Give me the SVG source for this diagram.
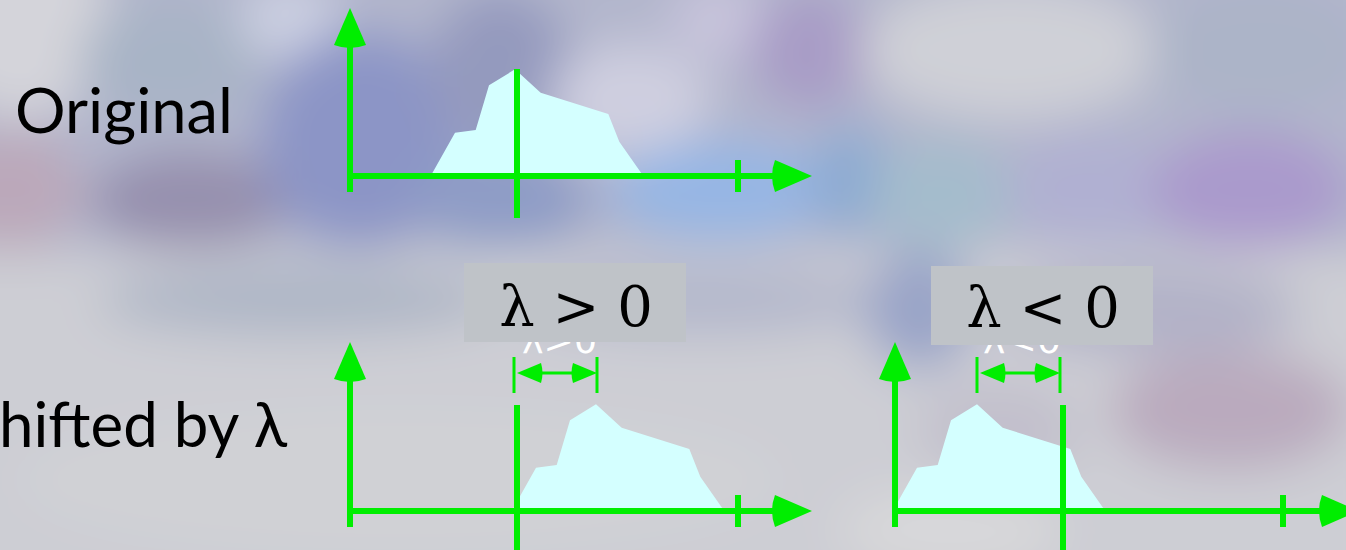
<svg xmlns="http://www.w3.org/2000/svg" width="1346" height="550" viewBox="0 0 1346 550">
<style>
.ax{stroke:#00ee00;stroke-width:6;fill:none}
.dim{stroke:#00ee00;stroke-width:3;fill:none}
.ah{fill:#00ee00}
.hist{fill:#d4ffff}
.lbl{font-family:Lato,"Noto Sans",sans-serif;font-size:62px;fill:#000}
.box{fill:#bfc3c8}
.math{font-family:"DejaVu Serif","Liberation Serif",serif;font-size:56px;fill:#000}
.ghost{font-family:"DejaVu Sans","Liberation Sans",sans-serif;font-size:36px;fill:#fff}
</style>
<defs>
<filter id="blur" x="-20%" y="-20%" width="140%" height="140%"><feGaussianBlur stdDeviation="24"/></filter>
<clipPath id="clipL"><rect x="500" y="342" width="120" height="20"/></clipPath>
<clipPath id="clipR"><rect x="960" y="345" width="120" height="20"/></clipPath>
<path id="head" d="M0,0 L-37,-16 Q-43,0 -37,16 Z"/>
<path id="shead" d="M0,0 L-24,-10 Q-27,0 -24,10 Z"/>
<polygon id="histo" points="430.7,176 455,132.7 475.7,130 489,85.3 515,69.3 540.7,92.7 608.3,114 619.3,141.7 643.3,176"/>
</defs>
<g id="background">
<rect width="1346" height="550" fill="#cacbd3"/>
<g filter="url(#blur)">
<rect x="-60" y="250" width="1460" height="360" fill="#cdced4"/>
<rect x="-60" y="-60" width="1460" height="310" fill="#b2b6cc"/>
<ellipse cx="20" cy="20" rx="90" ry="100" fill="#d4d4da"/>
<ellipse cx="10" cy="190" rx="70" ry="60" fill="#bba8ba"/>
<ellipse cx="170" cy="60" rx="90" ry="60" fill="#a8b4c6"/>
<ellipse cx="290" cy="20" rx="50" ry="40" fill="#ccd0e2"/>
<ellipse cx="190" cy="200" rx="100" ry="50" fill="#9690ae"/>
<ellipse cx="360" cy="140" rx="100" ry="110" fill="#8c95c6"/>
<ellipse cx="500" cy="70" rx="70" ry="80" fill="#949abe"/>
<ellipse cx="630" cy="100" rx="80" ry="55" fill="#cfcfe0"/>
<ellipse cx="720" cy="20" rx="50" ry="40" fill="#c8c4dc"/>
<ellipse cx="810" cy="50" rx="60" ry="60" fill="#a89cc6"/>
<ellipse cx="500" cy="200" rx="90" ry="50" fill="#8e9cc6"/>
<ellipse cx="720" cy="190" rx="110" ry="50" fill="#96b6e4"/>
<ellipse cx="850" cy="180" rx="40" ry="55" fill="#8caad2"/>
<ellipse cx="940" cy="195" rx="70" ry="55" fill="#a4bccc"/>
<ellipse cx="1010" cy="50" rx="150" ry="70" fill="#cfd0d7"/>
<ellipse cx="1260" cy="50" rx="110" ry="65" fill="#acb4c8"/>
<ellipse cx="1090" cy="190" rx="80" ry="55" fill="#b0b0d2"/>
<ellipse cx="1250" cy="190" rx="100" ry="60" fill="#aa9acc"/>
<ellipse cx="300" cy="300" rx="200" ry="35" fill="#aeb6c6"/>
<ellipse cx="700" cy="300" rx="180" ry="35" fill="#b4b8cc"/>
<ellipse cx="920" cy="310" rx="55" ry="60" fill="#9aa4c8"/>
<ellipse cx="1150" cy="310" rx="150" ry="45" fill="#b2b2c8"/>
<ellipse cx="1230" cy="410" rx="120" ry="60" fill="#baaabe"/>
<ellipse cx="400" cy="480" rx="380" ry="70" fill="#d0d1d5"/>
<ellipse cx="950" cy="530" rx="110" ry="40" fill="#d8d8da"/>
<ellipse cx="1000" cy="430" rx="80" ry="50" fill="#c2c0cc"/>
</g>
</g>
<g id="label-original"><text class="lbl" x="15" y="133" textLength="218" lengthAdjust="spacingAndGlyphs">Original</text></g>
<g id="label-shifted"><text class="lbl" x="-1" y="447" textLength="288" lengthAdjust="spacingAndGlyphs">hifted by λ</text></g>
<g id="graph-original">
<use href="#histo" class="hist"/>
<line class="ax" x1="350" y1="192" x2="350" y2="40"/>
<use href="#head" class="ah" transform="translate(350,8) rotate(-90)"/>
<line class="ax" x1="347" y1="176" x2="780" y2="176"/>
<use href="#head" class="ah" transform="translate(812,176)"/>
<line class="ax" x1="738" y1="160" x2="738" y2="192"/>
<line class="ax" x1="517" y1="69" x2="517" y2="218"/>
</g>
<g id="graph-positive">
<use href="#histo" class="hist" transform="translate(81,335)"/>
<line class="ax" x1="350" y1="527" x2="350" y2="375"/>
<use href="#head" class="ah" transform="translate(350,342) rotate(-90)"/>
<line class="ax" x1="347" y1="511" x2="780" y2="511"/>
<use href="#head" class="ah" transform="translate(812,511)"/>
<line class="ax" x1="738" y1="495" x2="738" y2="527"/>
<line class="ax" x1="517" y1="405" x2="517" y2="552"/>
</g>
<g id="graph-negative">
<use href="#histo" class="hist" transform="translate(462,335)"/>
<line class="ax" x1="895" y1="527" x2="895" y2="375"/>
<use href="#head" class="ah" transform="translate(895,342) rotate(-90)"/>
<line class="ax" x1="892" y1="511" x2="1326" y2="511"/>
<use href="#head" class="ah" transform="translate(1359,511)"/>
<line class="ax" x1="1283" y1="495" x2="1283" y2="527"/>
<line class="ax" x1="1063" y1="405" x2="1063" y2="552"/>
</g>
<g id="connectors">
<line class="dim" x1="514" y1="357" x2="514" y2="393"/>
<line class="dim" x1="597" y1="357" x2="597" y2="393"/>
<line class="dim" x1="530" y1="373" x2="584" y2="373"/>
<use href="#shead" class="ah" transform="translate(517,373) rotate(180)"/>
<use href="#shead" class="ah" transform="translate(597,373)"/>
<line class="dim" x1="977" y1="357" x2="977" y2="393"/>
<line class="dim" x1="1060" y1="357" x2="1060" y2="393"/>
<line class="dim" x1="993" y1="373" x2="1047" y2="373"/>
<use href="#shead" class="ah" transform="translate(980,373) rotate(180)"/>
<use href="#shead" class="ah" transform="translate(1060,373)"/>
</g>
<g id="label-positive">
<text class="ghost" x="522" y="353" textLength="75" lengthAdjust="spacingAndGlyphs" clip-path="url(#clipL)">λ&gt;0</text>
<rect class="box" x="464" y="263" width="222" height="79"/>
<text class="math" x="576" y="326" text-anchor="middle">λ &gt; 0</text>
</g>
<g id="label-negative">
<text class="ghost" x="983" y="353" textLength="78" lengthAdjust="spacingAndGlyphs" clip-path="url(#clipR)">λ&lt;0</text>
<rect class="box" x="931" y="266" width="222" height="79"/>
<text class="math" x="1043" y="327" text-anchor="middle">λ &lt; 0</text>
</g>
</svg>
